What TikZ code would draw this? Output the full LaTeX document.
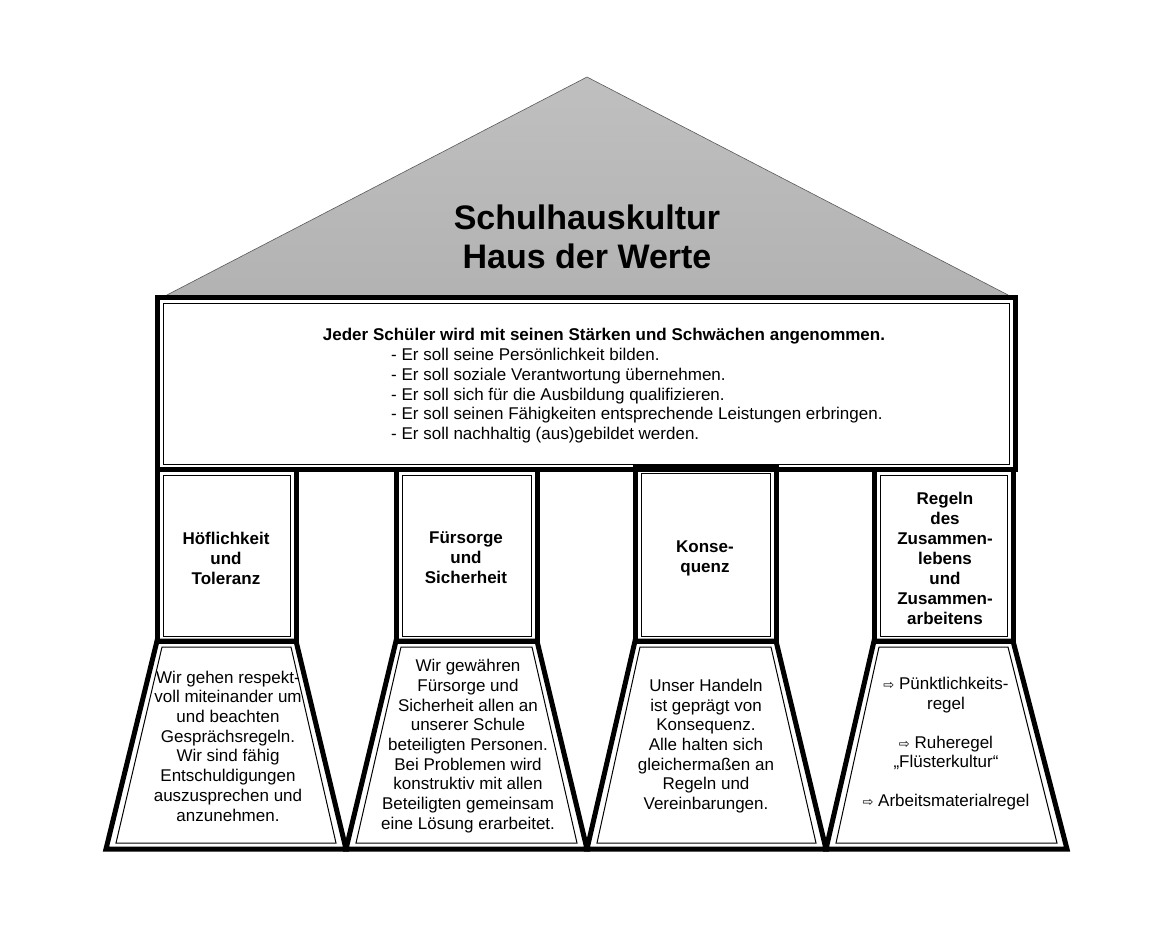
\documentclass[tikz,border=0pt]{standalone}
\usepackage{fontspec}
\setmainfont{Liberation Sans}
\newfontfamily\dv{DejaVu Sans}
\newcommand\myarr{{\dv\fontsize{13}{13}\selectfont ⇨}}
\begin{document}
\begin{tikzpicture}[x=1pt,y=-1pt,
  thick/.style={line width=5pt,line join=miter},
  thin/.style={line width=1pt},
  lbl/.style={font=\bfseries\fontsize{17}{20}\selectfont,align=center},
  txt/.style={font=\fontsize{17}{19.7}\selectfont,align=center}]
\useasboundingbox (0,0) rectangle (1159,938);
% roof
\shade[top color=gray!50,bottom color=gray!60] (587,77) -- (1010,296) -- (165,296) -- cycle;
\draw[line width=0.6pt,gray!70!black] (165,296) -- (587,77) -- (1010,296);
\node[font=\bfseries\fontsize{34}{39}\selectfont,align=center] (title) at (587,237) {Schulhauskultur\\Haus der Werte};
% banner
\draw[thick] (157,297) rectangle (1015,469);
\draw[thin] (163,303) rectangle (1009,464);
\node[font=\bfseries\fontsize{17}{18}\selectfont] (head) at (604,336) {Jeder Schüler wird mit seinen Stärken und Schwächen angenommen.};
\node[font=\fontsize{17}{19.8}\selectfont,align=left,anchor=north west,inner sep=0] (list) at (391,348) {- Er soll seine Persönlichkeit bilden.\\- Er soll soziale Verantwortung übernehmen.\\- Er soll sich für die Ausbildung qualifizieren.\\- Er soll seinen Fähigkeiten entsprechende Leistungen erbringen.\\- Er soll nachhaltig (aus)gebildet werden.};
% capitals
\foreach \a/\b/\t in {157/296/469, 396/537/469, 635/776/467, 874/1013/469}{
  \draw[thick] (\a,\t) rectangle (\b,641);
  \draw[thin] (\a+6,\t+6) rectangle (\b-6,636);
}
\node[lbl] (c1) at (226,558) {Höflichkeit\\und\\Toleranz};
\node[lbl] (c2) at (466,558) {Fürsorge\\und\\Sicherheit};
\node[lbl] (c3) at (705,558) {Konse-\\quenz};
\node[lbl] (c4) at (945,558) {Regeln\\des\\Zusammen-\\lebens\\und\\Zusammen-\\arbeitens};
% bases
\foreach \a/\b/\c/\d in {157/296/106/346, 396/537/346/587, 635/776/587/826, 874/1013/826/1067}{
  \draw[thick] (\a,641) -- (\b,641) -- (\d,849) -- (\c,849) -- cycle;
  \draw[thin] (\a+5,647) -- (\b-5,647) -- (\d-10,843) -- (\c+10,843) -- cycle;
}
\node[txt] (t1) at (228,746) {Wir gehen respekt-\\voll miteinander um\\und beachten\\Gesprächsregeln.\\Wir sind fähig\\Entschuldigungen\\auszusprechen und\\anzunehmen.};
\node[txt] (t2) at (468,746) {Wir gewähren\\Fürsorge und\\Sicherheit allen an\\unserer Schule\\beteiligten Personen.\\Bei Problemen wird\\konstruktiv mit allen\\Beteiligten gemeinsam\\eine Lösung erarbeitet.};
\node[txt] (t3) at (706,746) {Unser Handeln\\ist geprägt von\\Konsequenz.\\Alle halten sich\\gleichermaßen an\\Regeln und\\Vereinbarungen.};
\node[font=\fontsize{17}{19.5}\selectfont,align=center] (t4) at (946,744) {\myarr{} Pünktlichkeits-\\regel\\[19.5pt]\myarr{} Ruheregel\\„Flüsterkultur“\\[19.5pt]\myarr{} Arbeitsmaterialregel};
\end{tikzpicture}
\end{document}
